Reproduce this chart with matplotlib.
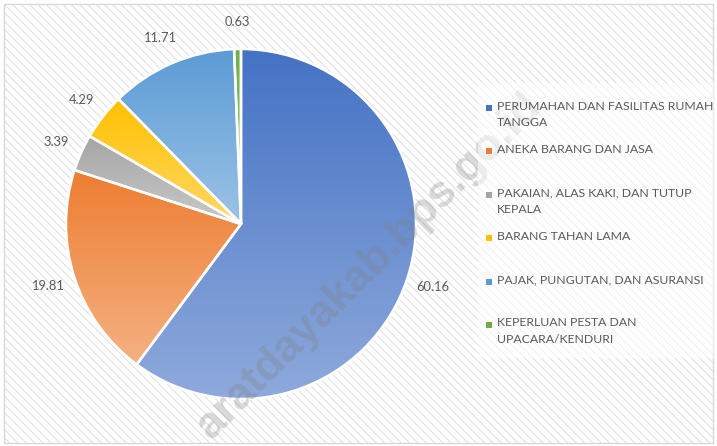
import numpy as np
import matplotlib
matplotlib.use("Agg")
import matplotlib.pyplot as plt
from matplotlib.colors import LinearSegmentedColormap
from matplotlib.patches import Rectangle

categories = [
    "PERUMAHAN DAN FASILITAS RUMAH\nTANGGA",
    "ANEKA BARANG DAN JASA",
    "PAKAIAN, ALAS KAKI, DAN TUTUP\nKEPALA",
    "BARANG TAHAN LAMA",
    "PAJAK, PUNGUTAN, DAN ASURANSI",
    "KEPERLUAN PESTA DAN\nUPACARA/KENDURI",
]
values = [60.16, 19.81, 3.39, 4.29, 11.71, 0.63]
value_labels = ["60.16", "19.81", "3.39", "4.29", "11.71", "0.63"]
top_colors = ["#4472C4", "#ED7D31", "#A5A5A5", "#FFC000", "#5B9BD5", "#70AD47"]
bottom_colors = ["#8FAADC", "#F4B183", "#C9C9C9", "#FFD966", "#9DC3E6", "#A9D18E"]

plt.rcParams['font.family'] = ['Lato', 'DejaVu Sans']
plt.rcParams['hatch.color'] = '#dcdcdc'
plt.rcParams['hatch.linewidth'] = 0.6
TXT = "#595959"

fig = plt.figure(figsize=(7.17, 4.46), dpi=100)
# background with hatch
bg = fig.add_axes([0, 0, 1, 1])
bg.set_xlim(0, 717); bg.set_ylim(0, 446); bg.axis('off')
bg.add_patch(Rectangle((4, 3), 709, 439, facecolor='white', edgecolor='#d9d9d9',
                       hatch='\\\\\\\\', linewidth=1.0))

ax = fig.add_axes([0, 0, 1, 1], zorder=2)
ax.set_facecolor('none')
ax.axis('off')

wedges, texts = ax.pie(values, labels=value_labels, startangle=90, counterclock=False,
                       center=(241, 222), radius=175, labeldistance=1.155,
                       wedgeprops=dict(edgecolor='white', linewidth=1.8),
                       textprops=dict(color=TXT, fontsize=9.3))
for t in texts:
    t.set_ha('center'); t.set_va('center')

grad = np.linspace(0, 1, 256).reshape(-1, 1)
for w, ct, cb in zip(wedges, top_colors, bottom_colors):
    ext = w.get_path().get_extents()
    cmap = LinearSegmentedColormap.from_list('g', [cb, ct])
    im = ax.imshow(grad, cmap=cmap, origin='lower', aspect='auto',
                   extent=[ext.x0, ext.x1, ext.y0, ext.y1], zorder=0.5,
                   interpolation='bilinear')
    im.set_clip_path(w)
    w.set_facecolor('none')
    w.set_zorder(1)

ax.set_xlim(0, 717)
ax.set_ylim(0, 446)

# legend (manual)
leg_ax = fig.add_axes([0, 0, 1, 1], zorder=3)
leg_ax.set_xlim(0, 717); leg_ax.set_ylim(0, 446); leg_ax.axis('off')
leg_ax.add_patch(Rectangle((478, 88), 236, 275, facecolor='white', edgecolor='none', alpha=0.55))
for i, (lab, c) in enumerate(zip(categories, top_colors)):
    y = 446 - (108 + i * 43.4)
    leg_ax.add_patch(Rectangle((486, y - 3), 6, 6, facecolor=c, edgecolor='none'))
    leg_ax.text(497, y + 7.5, lab, color=TXT, fontsize=8.85, ha='left', va='top',
                linespacing=1.6)

# watermark
wm = fig.add_axes([0, 0, 1, 1], zorder=2.5)
wm.set_xlim(0, 717); wm.set_ylim(0, 446); wm.axis('off')
wm.text(370, 180, "aratdayakab.bps.go.id", rotation=45, ha='center', va='center',
        fontsize=32, fontweight='bold', color='#808080', alpha=0.3,
        family='Liberation Sans', rotation_mode='anchor', clip_on=True)

fig.savefig("out.png", dpi=100)
